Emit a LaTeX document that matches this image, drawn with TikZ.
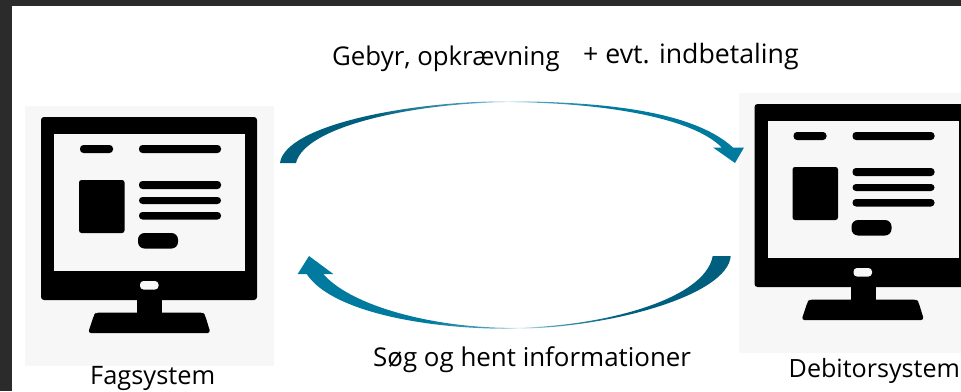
\documentclass[tikz,border=0pt]{standalone}
\usepackage{fontspec}
\setmainfont{Open Sans}
\definecolor{frameDark}{HTML}{2B2B2B}
\definecolor{tileGrey}{HTML}{F7F7F7}
\definecolor{arcDark}{HTML}{005F7F}
\definecolor{arcMid}{HTML}{007A9E}
\pgfdeclarehorizontalshading{arcshade}{100bp}{color(0bp)=(arcDark); color(25bp)=(arcDark); color(35bp)=(arcDark); color(46bp)=(arcMid!70!white); color(49.5bp)=(arcMid!8!white); color(53bp)=(arcMid!70!white); color(60bp)=(arcMid); color(100bp)=(arcMid)}
\pgfdeclarehorizontalshading{arcshadeb}{100bp}{color(0bp)=(arcMid); color(25bp)=(arcMid); color(40bp)=(arcMid); color(47bp)=(arcMid!70!white); color(50.5bp)=(arcMid!8!white); color(54bp)=(arcMid!70!white); color(62bp)=(arcDark); color(100bp)=(arcDark)}
\tikzset{
  label text/.style={font=\fontsize{#1}{28}\selectfont, anchor=base west, inner sep=0pt, text=black},
  ink/.style={fill=black, draw=none},
  bar/.style={ink, rounded corners=3.5pt},
  tile/.style={fill=tileGrey, draw=none},
  pics/screenicon/.style={code={
    \fill[tile] (25,106) rectangle (274,366);
    \fill[ink, rounded corners=3pt] (41,117) rectangle (257,300);
    \fill[tile] (54,134) rectangle (245,271);
    \fill[bar] (80,145) rectangle (113,153);
    \fill[bar] (139,145) rectangle (221,153);
    \fill[ink, rounded corners=2.5pt] (79,180) rectangle (124.5,233);
    \fill[bar] (139,181) rectangle (221,189);
    \fill[bar] (139,197) rectangle (221,204);
    \fill[bar] (139,212) rectangle (221,219.5);
    \fill[ink, rounded corners=6.5pt] (138,233) rectangle (178,248.5);
    \fill[tile, rounded corners=3.5pt] (140,281) rectangle (158.5,289.5);
    \fill[ink] (137,299) rectangle (162,314);
    \fill[ink, rounded corners=3pt] (88,333) -- (94,315) -- (96,312.5) -- (203,312.5) -- (205,315) -- (210.5,333) -- cycle;
  }}
}
\begin{document}
\begin{tikzpicture}[x=1pt,y=-1pt]
\useasboundingbox (0,0) rectangle (961,391);
\clip (0,0) rectangle (961,391);
\fill[white] (0,0) rectangle (961,391);
\fill[frameDark] (0,0) rectangle (961,6);
\fill[frameDark] (0,0) rectangle (12,391);

\pic (fag) at (0,0) {screenicon};
\pic (deb) at (713.5,-13) {screenicon};

% upper arrow, Fagsystem to Debitorsystem
\shade[shading=arcshade]
  (280,163) .. controls (285,125) and (410,101) .. (510,101.2)
  .. controls (600,102) and (692,110) .. (733,147.5)
  -- (744,147.5) -- (735,163) -- (713,147.5) -- (721.7,147.5)
  .. controls (692,117) and (600,102.6) .. (510,102.2)
  .. controls (420,102.4) and (305,125) .. (296,163) -- cycle;

% lower arrow, Debitorsystem to Fagsystem
\shade[shading=arcshadeb]
  (730.7,256) .. controls (728,295) and (610,328.8) .. (510,328.8)
  .. controls (420,328.8) and (330,310) .. (306.7,274)
  -- (297.7,274) -- (309,256) -- (333.3,274) -- (323.3,274)
  .. controls (350,305) and (430,327.6) .. (510,327.8)
  .. controls (600,327.6) and (705,300) .. (712.7,256) -- cycle;

\node[label text=25.8] (t1) at (332,65) {Gebyr, opkrævning};
\node[label text=26.7] (t2) at (583,63) {+ evt. indbetaling};
\node[label text=25.9] (t3) at (373,366) {Søg og hent informationer};
\node[label text=25.4] (t4) at (90,384.5) {Fagsystem};
\node[label text=25.1] (t5) at (788.5,377) {Debitorsystem};
\end{tikzpicture}
\end{document}
